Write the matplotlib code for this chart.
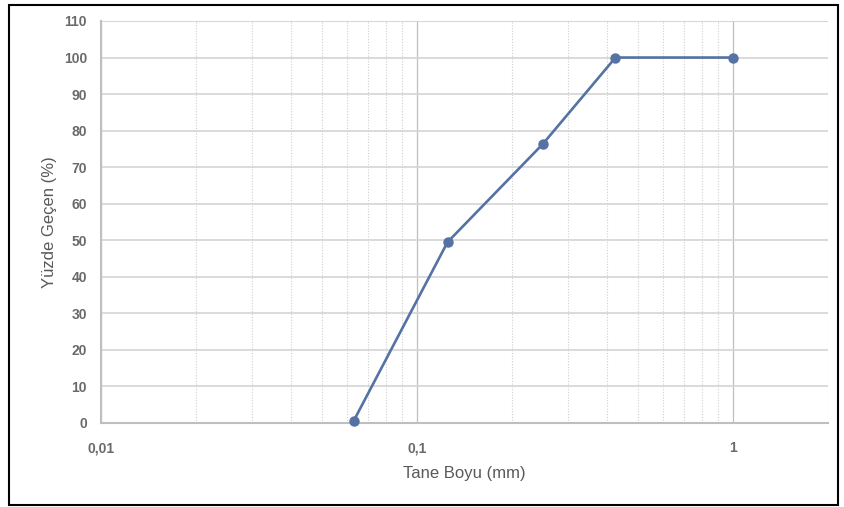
import matplotlib.pyplot as plt
from matplotlib.ticker import FixedLocator, FixedFormatter, LogLocator, NullFormatter
from matplotlib.patches import Rectangle

# elek analizi verileri
tane_boyu = [0.063, 0.125, 0.25, 0.425, 1.0]
yuzde_gecen = [0.5, 49.5, 76.3, 100, 100]

x_ticks = [0.01, 0.1, 1]
x_ticklabels = ['0,01', '0,1', '1']
y_ticks = list(range(0, 111, 10))

plt.rcParams['font.family'] = ['Liberation Sans', 'DejaVu Sans']
gray_txt = '#595959'

fig = plt.figure(figsize=(8.44, 5.07), dpi=100)
ax = fig.add_axes([101/844, 1-423/507, (828-101)/844, (423-21)/507])

ax.plot(tane_boyu, yuzde_gecen, '-o', color='#5472a3', lw=1.9, ms=6.5, zorder=5, clip_on=False)

ax.set_xscale('log')
ax.set_xlim(0.01, 2)
ax.set_ylim(0, 110)

ax.xaxis.set_major_locator(FixedLocator(x_ticks))
ax.xaxis.set_major_formatter(FixedFormatter(x_ticklabels))
ax.xaxis.set_minor_locator(LogLocator(base=10, subs=range(2, 10)))
ax.xaxis.set_minor_formatter(NullFormatter())
ax.set_yticks(y_ticks)

ax.tick_params(axis='both', which='both', length=0, colors='#6a6a6a', labelsize=10)
ax.tick_params(axis='x', pad=13)
ax.tick_params(axis='y', pad=10)
for lab in ax.get_xticklabels() + ax.get_yticklabels():
    lab.set_fontweight('bold')

ax.grid(axis='y', which='major', color='#d4d4d4', lw=1.2, ls='-')
ax.grid(axis='x', which='major', color='#bfbfbf', lw=0.9, ls='-')
ax.grid(axis='x', which='minor', color='#cfcfcf', lw=0.8, ls=(0, (1, 1.5)))
ax.set_axisbelow(True)

for s in ['top', 'right']:
    ax.spines[s].set_visible(False)
ax.spines['left'].set_color('#bfbfbf')
ax.spines['bottom'].set_color('#bfbfbf')
ax.spines['left'].set_linewidth(1.5)
ax.spines['bottom'].set_linewidth(1.5)
ax.axhline(110, color='#cfcfcf', lw=0.8, ls=(0, (1, 1.5)))

ax.set_xlabel('Tane Boyu (mm)', fontsize=12, color=gray_txt, labelpad=8)
ax.set_ylabel('Yüzde Geçen (%)', fontsize=12, color=gray_txt, labelpad=5)

fig.patches.append(Rectangle((9/844, 1-505/507), (838-9)/844, (505-5)/507,
                             transform=fig.transFigure, fill=False, ec='black', lw=1.5))

fig.savefig('out.png', dpi=100)
